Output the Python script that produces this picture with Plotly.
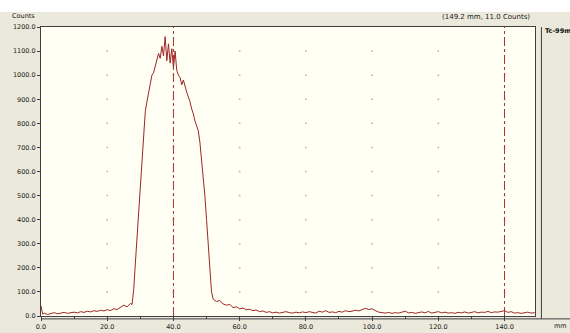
import plotly.graph_objects as go

# ---- data ----
pos_mm = [0, 0.5, 1, 2, 3, 4, 5, 6, 7, 8, 9, 10, 11, 12, 13, 14, 15, 16, 17, 18, 19,
          20, 21, 22, 23, 24, 25, 26, 27, 27.5, 28, 28.5, 29, 29.5, 30, 30.5, 31, 31.5,
          32, 32.5, 33, 33.5, 34, 34.5, 35, 35.5, 36, 36.5, 37, 37.5, 38, 38.5, 39, 39.5,
          40, 40.5, 41, 41.5, 42, 42.5, 43, 43.5, 44, 44.5, 45, 45.5, 46, 46.5, 47, 47.5,
          48, 48.5, 49, 49.5, 50, 50.5, 51, 51.5, 52, 53, 54, 55, 56, 57, 58, 59, 60,
          61, 62, 63, 64, 65, 66, 67, 68, 69, 70, 71, 72, 73, 74, 75, 76, 77, 78, 79,
          80, 81, 82, 83, 84, 85, 86, 87, 88, 89, 90, 91, 92, 93, 94, 95, 96, 97, 98, 99,
          100, 101, 102, 103, 104, 105, 106, 107, 108, 109, 110, 111, 112, 113, 114, 115,
          116, 117, 118, 119, 120, 121, 122, 123, 124, 125, 126, 127, 128, 129, 130, 131,
          132, 133, 134, 135, 136, 137, 138, 139, 140, 141, 142, 143, 144, 145, 146, 147,
          148, 149, 149.2]
counts = [42, 8, 12, 6, 10, 14, 9, 12, 15, 11, 14, 16, 13, 18, 15, 20, 17, 22, 19, 24, 21,
          26, 23, 30, 27, 35, 45, 38, 52, 48, 110, 220, 330, 450, 560, 670, 760, 850,
          890, 930, 960, 1000, 1010, 1040, 1060, 1090, 1070, 1120, 1080, 1160, 1060, 1130, 1050, 1110,
          1030, 1100, 1020, 1000, 990, 960, 980, 950, 930, 910, 890, 860, 840, 810, 790, 770,
          720, 650, 580, 500, 400, 290, 180, 100, 70, 60, 65, 50, 45, 48, 35, 38, 30,
          33, 26, 28, 22, 25, 18, 21, 15, 18, 13, 16, 12, 15, 18, 14, 12, 16, 13, 17,
          14, 18, 15, 12, 20, 16, 22, 15, 17, 14, 19, 16, 22, 18, 20, 24, 21, 28, 32, 27,
          30, 22, 16, 14, 12, 15, 11, 14, 12, 16, 20, 13, 15, 11, 14, 17,
          13, 19, 12, 15, 18, 13, 16, 12, 14, 11, 15, 13, 17, 12, 14, 18,
          13, 16, 15, 19, 14, 17, 16, 20, 22, 15, 18, 12, 14, 11, 13, 16,
          12, 14, 11]
x_ticks = [0, 20, 40, 60, 80, 100, 120, 140]
y_ticks = [0, 100, 200, 300, 400, 500, 600, 700, 800, 900, 1000, 1100, 1200]
markers_mm = [40, 140]
series_name = "Tc-99m"
cursor_text = "(149.2 mm, 11.0 Counts)"

FONT = "DejaVu Sans"
fig = go.Figure()

# grid dots at tick intersections
gx, gy = [], []
for xv in x_ticks[1:]:
    for yv in y_ticks[1:-1]:
        gx.append(xv)
        gy.append(yv)
fig.add_trace(go.Scatter(x=gx, y=gy, mode="markers",
                         marker=dict(size=2, color="#c0c0c0"),
                         hoverinfo="skip", showlegend=False))

fig.add_trace(go.Scatter(x=pos_mm, y=counts, mode="lines",
                         line=dict(color="#9c2626", width=1),
                         name=series_name, showlegend=False))

for m in markers_mm:
    fig.add_shape(type="line", x0=m, x1=m, y0=0, y1=1, xref="x", yref="paper",
                  line=dict(color="#a83030", width=1, dash="dashdot"))

# white strip at top
fig.add_shape(type="rect", xref="paper", yref="paper", x0=-0.2, x1=1.2,
              y0=1.052, y1=1.2, fillcolor="white", line=dict(width=0), layer="below")
# right legend frame line
fig.add_shape(type="line", xref="paper", yref="paper", x0=1.013, x1=1.013,
              y0=-0.01, y1=1.0, line=dict(color="#404040", width=1))
# long baseline
fig.add_shape(type="line", xref="paper", yref="paper", x0=0, x1=1.1,
              y0=-0.01, y1=-0.01, line=dict(color="#404040", width=1))

fig.add_annotation(text="Counts", xref="paper", yref="paper", x=-0.063, y=1.037,
                   xanchor="left", yanchor="middle", showarrow=False,
                   font=dict(family=FONT, size=6.5, color="#202020"))
fig.add_annotation(text=cursor_text, xref="paper", yref="paper", x=0.993, y=1.033,
                   xanchor="right", yanchor="middle", showarrow=False,
                   font=dict(family=FONT, size=7, color="#202020"))
fig.add_annotation(text="<b>" + series_name + "</b>", xref="paper", yref="paper", x=1.016, y=0.985,
                   xanchor="left", yanchor="middle", showarrow=False,
                   font=dict(family=FONT, size=6.5, color="#101010"))
fig.add_annotation(text="mm", xref="paper", yref="paper", x=1.035, y=-0.036,
                   xanchor="left", yanchor="middle", showarrow=False,
                   font=dict(family=FONT, size=6.5, color="#202020"))

fig.update_layout(
    width=570, height=333,
    margin=dict(l=41, r=35, t=27, b=17, autoexpand=False),
    paper_bgcolor="#ebe8dc",
    plot_bgcolor="#fffff3",
    showlegend=False,
    xaxis=dict(range=[0, 149.2], tickvals=x_ticks, tickformat=".1f", automargin=False,
               showgrid=False, zeroline=False, showline=True, linecolor="#404040",
               mirror=True, ticks="outside", ticklen=4, tickcolor="#404040",
               minor=dict(dtick=10, ticks="outside", ticklen=2, tickcolor="#404040"),
               tickfont=dict(family=FONT, size=6.5, color="#202020")),
    yaxis=dict(range=[0, 1200], tickvals=y_ticks, tickformat=".1f", automargin=False,
               showgrid=False, zeroline=False, showline=True, linecolor="#404040",
               mirror=True, ticks="outside", ticklen=3, tickcolor="#404040",
               tickfont=dict(family=FONT, size=6.5, color="#202020")),
)

fig.write_html("out.html", config={"displayModeBar": False},
               post_script="document.body.style.margin='0';document.body.style.overflow='hidden';")
